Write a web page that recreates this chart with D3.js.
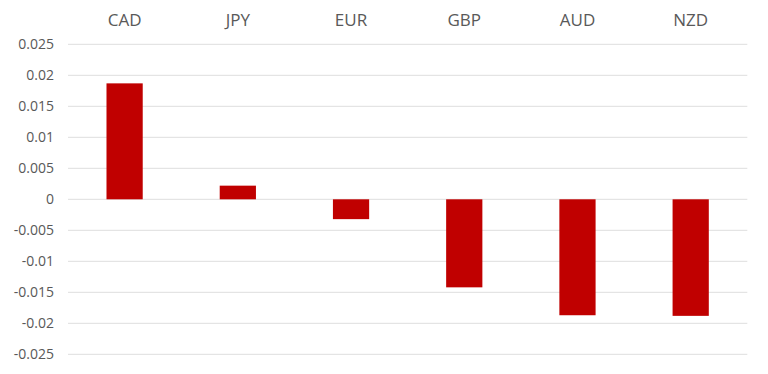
<!DOCTYPE html>
<html><head><meta charset="utf-8">
<script src="https://cdn.jsdelivr.net/npm/d3@7"></script>
<style>body{margin:0;background:#fff;}svg{display:block;}</style>
</head><body>
<svg id="chart" width="768" height="374"></svg>
<script>
const categories = ["CAD","JPY","EUR","GBP","AUD","NZD"];
const values = [0.0187, 0.0022, -0.0032, -0.0142, -0.0187, -0.0188];
const yTicks = [0.025,0.02,0.015,0.01,0.005,0,-0.005,-0.01,-0.015,-0.02,-0.025];

(function(){
const svg = d3.select("#chart");
const mLeft = 68, mRight = 747.3, mTop = 44.3, mBottom = 354.3;
const x = d3.scaleBand().domain(categories).range([mLeft, mRight]).paddingInner(0.68).paddingOuter(0.34);
const y = d3.scaleLinear().domain([-0.025, 0.025]).range([mBottom, mTop]);

const font = "'Open Sans', sans-serif";
svg.append("g").selectAll("line").data(yTicks).join("line")
  .attr("x1", mLeft).attr("x2", mRight)
  .attr("y1", d => y(d)).attr("y2", d => y(d))
  .attr("stroke", "#dedede").attr("stroke-width", 1);

const yAxis = d3.axisLeft(y).tickValues(yTicks).tickSize(0).tickPadding(0)
  .tickFormat(d => d === 0 ? "0" : String(+d.toFixed(3)));
const ya = svg.append("g").attr("transform", `translate(${mLeft - 14},0)`).call(yAxis);
ya.select(".domain").remove();
ya.selectAll("text").attr("font-family", font).attr("font-size", 14).attr("fill", "#595959");

const xAxis = d3.axisTop(x).tickSize(0).tickPadding(0);
const xa = svg.append("g").attr("transform", `translate(0,26)`).call(xAxis);
xa.select(".domain").remove();
xa.selectAll("text").attr("font-family", font).attr("font-size", 17).attr("fill", "#595959").attr("dy", 0);

svg.append("g").selectAll("rect").data(categories).join("rect")
  .attr("x", d => x(d))
  .attr("width", x.bandwidth())
  .attr("y", (d, i) => y(Math.max(0, values[i])))
  .attr("height", (d, i) => Math.abs(y(values[i]) - y(0)))
  .attr("fill", "#c00000");
})();
</script>
</body></html>
